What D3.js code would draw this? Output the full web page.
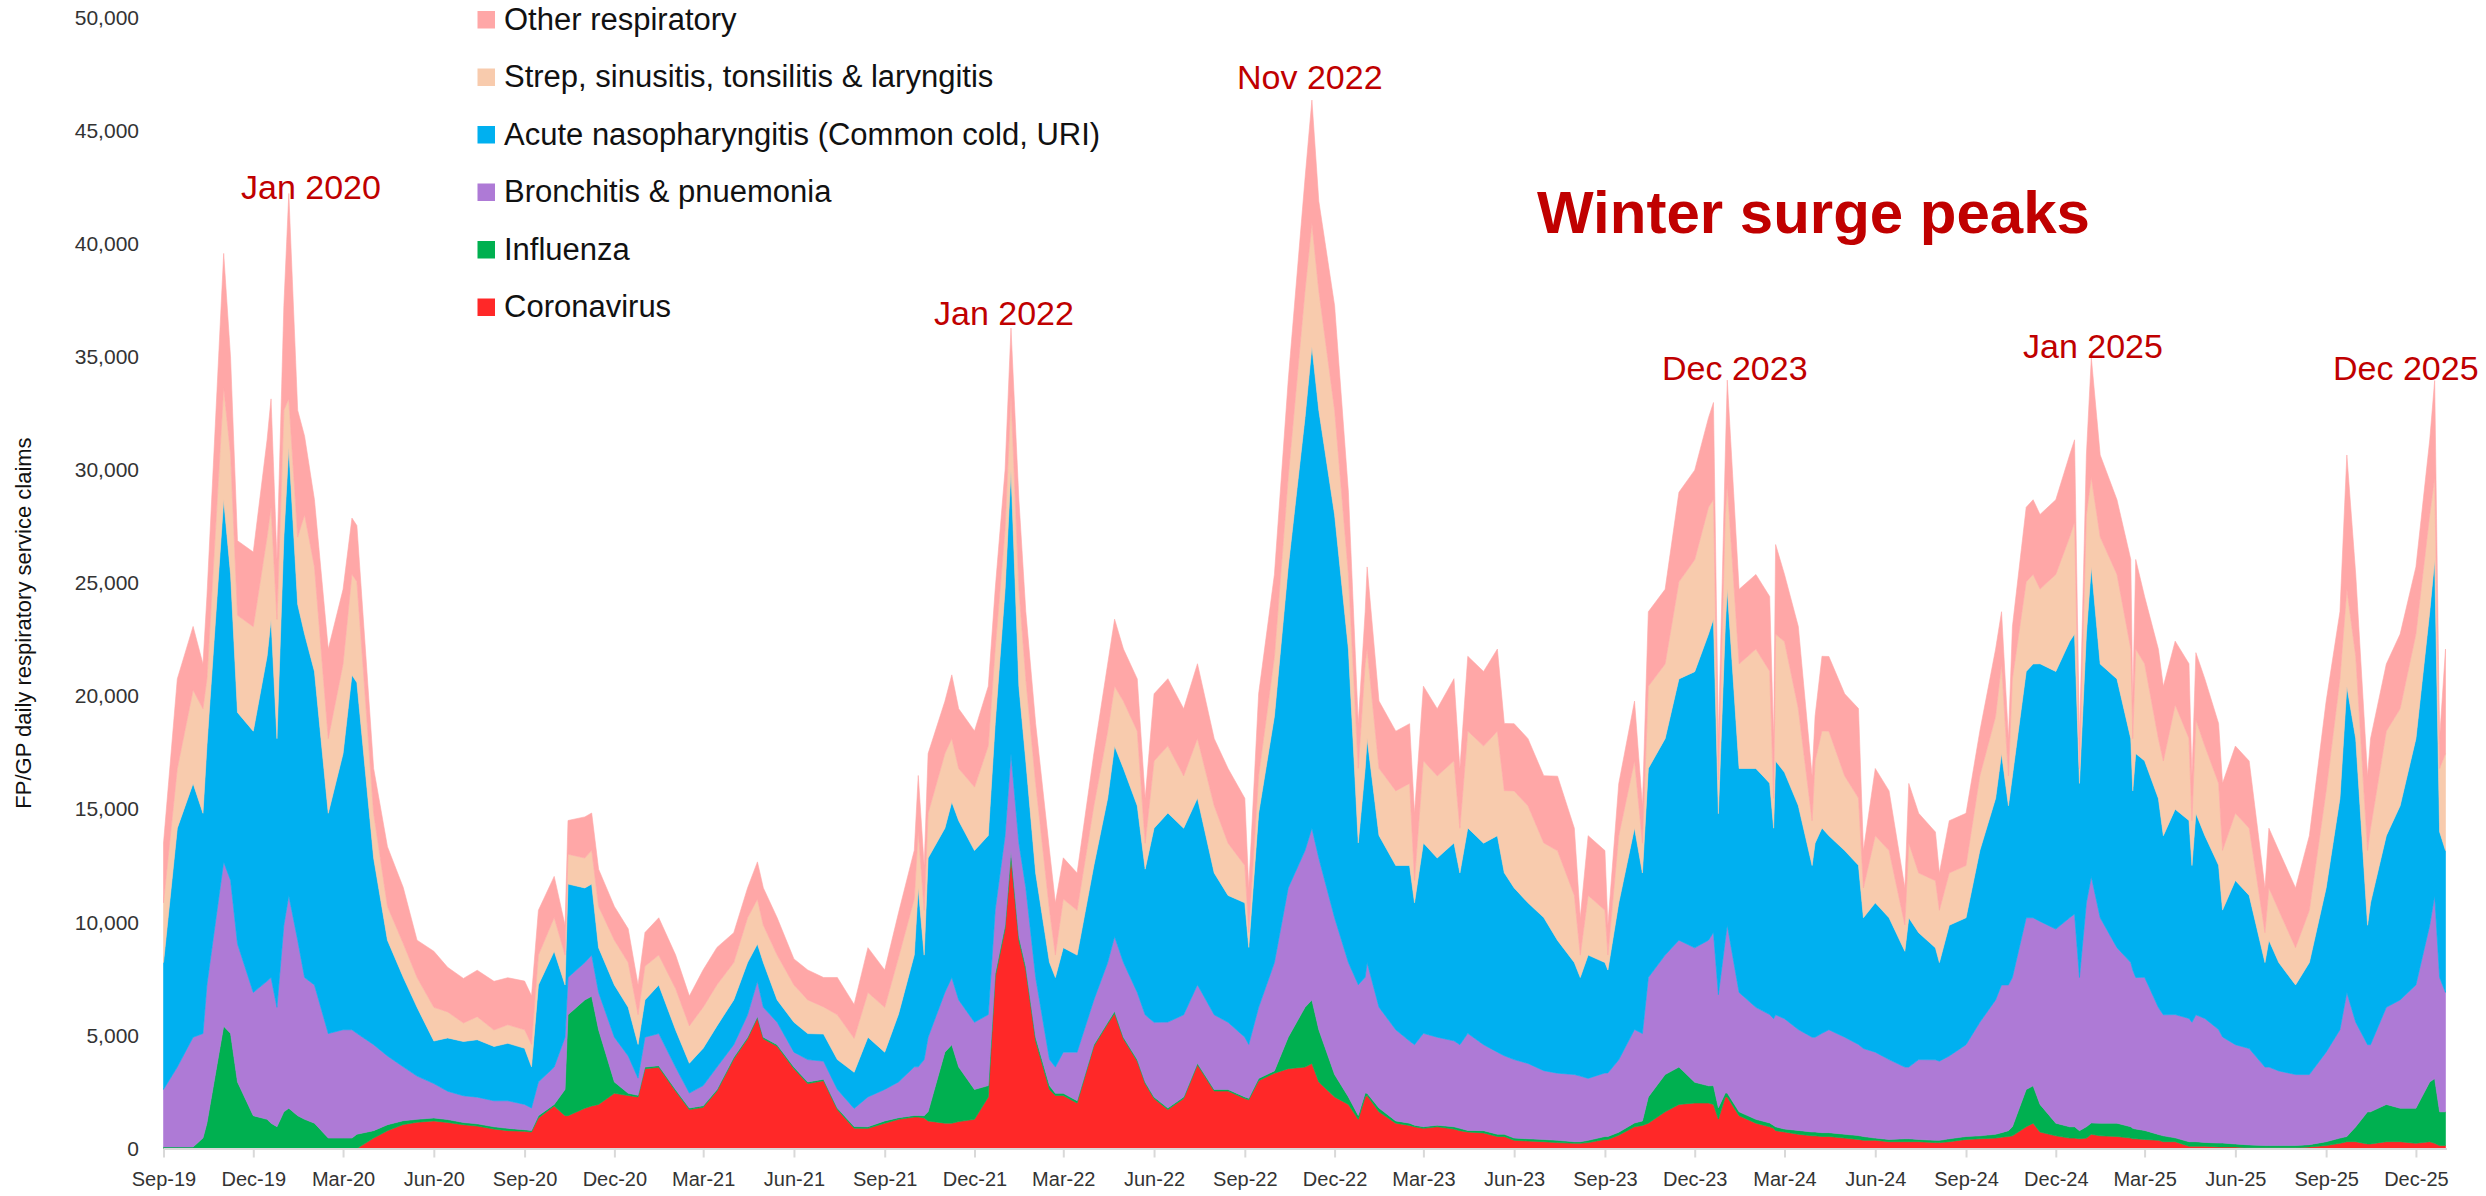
<!DOCTYPE html>
<html>
<head>
<meta charset="utf-8">
<script src="https://cdn.jsdelivr.net/npm/d3@7"></script>
<style>
  html, body { margin: 0; padding: 0; background: #fff; }
  svg { display: block; }
</style>
</head>
<body>
<div id="chart"></div>
<script>
const WIDTH  = 2486;
const HEIGHT = 1196;
const PLOT = {
  left:   163.5,
  right:  2446.5,
  top:    17.5,
  bottom: 1148.5
};
const FONT = '"Liberation Sans", Arial, sans-serif';
const RED_TEXT = '#C00000';

const KEYS = ['coronavirus', 'influenza', 'bronchitis', 'acute', 'strep', 'other'];
const NAMES = {
  other:       'Other respiratory',
  strep:       'Strep, sinusitis, tonsilitis & laryngitis',
  acute:       'Acute nasopharyngitis (Common cold, URI)',
  bronchitis:  'Bronchitis & pnuemonia',
  influenza:   'Influenza',
  coronavirus: 'Coronavirus'
};
const COLORS = {
  other:       '#FFA7A7',
  strep:       '#F8CBAD',
  acute:       '#00B0F0',
  bronchitis:  '#AE7AD6',
  influenza:   '#00B050',
  coronavirus: '#FF2828'
};

// Sample dates (daily claims)
const dates = [
  '2019-09-01','2019-09-15','2019-10-01','2019-10-11','2019-10-15','2019-11-01','2019-11-08','2019-11-15','2019-12-01','2019-12-15','2019-12-19','2019-12-25',
  '2020-01-01','2020-01-06','2020-01-15','2020-01-22','2020-02-01','2020-02-15','2020-03-01','2020-03-10','2020-03-15','2020-04-01','2020-04-15','2020-05-01','2020-05-15','2020-06-01','2020-06-15','2020-07-01','2020-07-15','2020-08-01','2020-08-15','2020-09-01','2020-09-08','2020-09-15','2020-10-01','2020-10-12','2020-10-15','2020-11-01','2020-11-08','2020-11-15','2020-12-01','2020-12-15','2020-12-25',
  '2021-01-01','2021-01-15','2021-02-01','2021-02-15','2021-03-01','2021-03-15','2021-04-01','2021-04-15','2021-04-25','2021-05-01','2021-05-15','2021-06-01','2021-06-15','2021-07-01','2021-07-15','2021-08-01','2021-08-15','2021-09-01','2021-09-15','2021-10-01','2021-10-05','2021-10-11','2021-10-15','2021-11-01','2021-11-08','2021-11-15','2021-12-01','2021-12-15','2021-12-22',
  '2022-01-01','2022-01-07','2022-01-15','2022-01-22','2022-02-01','2022-02-15','2022-02-21','2022-03-01','2022-03-15','2022-04-01','2022-04-15','2022-04-22','2022-05-01','2022-05-15','2022-05-23','2022-06-01','2022-06-15','2022-07-01','2022-07-15','2022-08-01','2022-08-15','2022-09-01','2022-09-05','2022-09-15','2022-10-01','2022-10-15','2022-11-01','2022-11-08','2022-11-15','2022-12-01','2022-12-15','2022-12-25',
  '2023-01-01','2023-01-03','2023-01-15','2023-02-01','2023-02-15','2023-02-20','2023-03-01','2023-03-15','2023-04-01','2023-04-07','2023-04-15','2023-05-01','2023-05-15','2023-05-22','2023-06-01','2023-06-15','2023-07-01','2023-07-15','2023-08-01','2023-08-07','2023-08-15','2023-09-01','2023-09-04','2023-09-15','2023-10-01','2023-10-09','2023-10-15','2023-11-01','2023-11-15','2023-12-01','2023-12-15','2023-12-20','2023-12-25',
  '2024-01-01','2024-01-03','2024-01-15','2024-02-01','2024-02-15','2024-02-19','2024-02-21','2024-03-01','2024-03-15','2024-03-29','2024-04-01','2024-04-08','2024-04-15','2024-05-01','2024-05-15','2024-05-20','2024-06-01','2024-06-15','2024-07-01','2024-07-05','2024-07-15','2024-08-01','2024-08-05','2024-08-15','2024-09-01','2024-09-15','2024-10-01','2024-10-07','2024-10-14','2024-10-18','2024-11-01','2024-11-08','2024-11-15','2024-12-01','2024-12-15','2024-12-20','2024-12-25',
  '2025-01-01','2025-01-06','2025-01-15','2025-02-01','2025-02-15','2025-02-17','2025-02-20','2025-03-01','2025-03-15','2025-03-20','2025-04-01','2025-04-15','2025-04-18','2025-04-22','2025-05-01','2025-05-15','2025-05-19','2025-06-01','2025-06-15','2025-07-01','2025-07-05','2025-07-15','2025-08-01','2025-08-15','2025-09-01','2025-09-15','2025-09-22','2025-10-01','2025-10-13','2025-10-16','2025-11-01','2025-11-15','2025-12-01','2025-12-15','2025-12-20','2025-12-25','2025-12-31'
];

const coronavirus = [
  0,0,0,0,0,0,0,0,0,0,0,0,
  0,0,0,0,0,0,0,0,0,460,790,1060,1160,1220,1150,1050,990,860,790,760,730,1350,1880,1450,1450,1780,1880,1950,2440,2340,2280,
  3530,3590,2540,1720,1820,2540,3960,4850,5770,4850,4520,3530,2870,3000,1720,900,890,1120,1290,1390,1390,1350,1220,1120,1120,1190,1290,2280,7560,
  9700,12840,9210,7890,4750,2610,2340,2340,2010,4520,5510,5970,4850,3860,2870,2210,1720,2210,3700,2540,2540,2210,2150,3000,3330,3530,3600,3760,2940,2280,1950,1290,
  2280,2340,1620,1120,1020,960,890,960,860,790,730,690,530,530,360,330,300,260,230,230,260,400,400,590,960,1020,1120,1620,1950,2010,2010,1950,1300,
  2280,2280,1450,1120,960,890,790,730,630,560,560,530,530,460,400,360,360,300,300,300,300,260,260,300,400,430,460,500,530,560,960,1120,730,560,460,460,430,
  460,630,560,530,460,430,430,400,360,300,300,100,100,100,100,70,70,70,30,30,30,30,30,70,130,230,300,300,200,200,300,300,230,300,230,130,130
];

const influenza = [
  70,70,70,460,1120,5410,5080,2940,1450,1290,1120,960,
  1620,1780,1450,1290,1120,460,460,460,630,330,260,170,130,130,130,100,100,100,100,70,70,100,70,1160,4460,4790,4850,3300,500,100,70,
  70,70,70,70,70,70,70,70,70,70,70,70,70,60,70,70,70,100,70,70,70,100,400,3140,3470,2410,1320,500,170,
  170,330,170,170,170,170,100,100,100,70,70,100,70,70,70,70,70,70,70,70,70,70,70,100,100,1390,2640,2810,2310,990,330,170,
  170,100,170,100,100,70,70,70,100,100,70,100,100,100,100,100,100,100,70,70,100,130,130,130,170,200,1160,1650,1650,920,760,830,500,
  170,170,170,170,170,130,170,130,170,170,170,170,170,170,170,170,100,100,130,130,100,100,100,130,130,130,170,200,260,400,1650,1650,1220,560,500,500,360,
  500,500,560,590,500,460,430,400,260,260,170,200,200,200,170,170,170,130,130,100,100,100,100,100,170,230,230,660,1420,1420,1650,1480,1550,2640,2860,1490,1490
];

const bronchitis = [
  2540,3530,4850,4620,6110,7260,6770,6110,5450,6110,6440,5280,
  8250,9410,7760,6270,6110,4620,4790,4790,4460,3800,3040,2380,1910,1520,1250,1180,1180,1150,1220,1120,990,1490,1650,2310,1650,1650,1820,1650,1980,1650,760,
  1320,1420,990,660,890,990,560,990,1550,1320,990,660,990,800,820,800,1320,1390,1580,2150,2150,2480,3300,2640,2970,2970,2970,3140,2810,
  3960,4290,4130,3470,2640,1160,1160,1820,2150,1980,2640,3300,3300,2970,2970,3300,3800,3630,3470,3300,2970,2640,2380,3140,4790,6600,6930,7590,7590,6930,5940,5780,
  5120,5780,4460,4030,3630,3560,4130,3890,3800,3700,4290,3800,3630,3470,3470,3330,3040,2970,2970,2900,2740,2810,2810,3200,4130,3860,5280,5280,5610,5940,6440,6770,5000,
  6770,7430,5280,4950,4790,4720,4950,4880,4460,4190,4190,4390,4550,4290,4030,3890,3800,3530,3170,3170,3530,3560,3500,3660,4060,5020,5940,6530,6440,6600,7590,7430,8090,8580,9240,9410,6770,
  9900,10890,9080,7760,7260,7000,6700,6770,5610,5350,5450,5450,5280,5610,5480,5020,4690,4390,4260,3470,3470,3300,3140,3100,3960,4790,6370,4620,2970,2970,4290,4790,5450,6930,8090,5940,5280
];

const acute = [
  5610,10560,11220,9740,10560,16010,13530,10230,11550,14360,15840,11880,
  17160,19800,14850,15180,13860,9740,12210,15680,15510,8250,5120,3960,3040,1880,2360,2400,2540,2400,2540,2480,1820,4290,5120,2310,4130,3300,3140,1980,2310,2150,1490,
  1650,2150,1650,1320,1650,1820,1980,2310,1650,1980,990,1320,1150,1200,1320,1600,2640,1650,3000,4950,7920,4620,7920,7260,7760,7920,7590,7920,8250,
  10890,12540,6930,5610,4620,4290,3960,4620,4290,5940,7260,8420,8580,8250,6440,8580,9240,8250,8250,6270,5610,5940,4290,8580,10890,14190,19140,21290,19800,17820,13860,6270,
  9240,9900,7590,7260,7760,6270,8420,7920,8750,7590,9080,8910,9570,8090,7590,7100,6770,5870,4950,4360,5450,4880,4550,6930,8910,7100,9240,9570,11550,12210,13530,13860,8000,
  13860,14850,9900,10560,10230,8420,11220,10890,9900,7590,8580,9080,8580,8250,7920,5780,6600,6270,5120,6600,5610,4950,4360,5780,5610,7590,8910,10230,7920,8910,10890,11220,11390,11390,12210,12380,8580,
  11880,13700,11220,11880,9900,7920,9900,9570,9240,7920,9080,8750,6930,8910,8090,7260,5610,7260,6770,4620,5610,4790,3960,4950,7260,10230,13530,12540,5280,6270,7590,8580,10890,13860,14850,6440,6270
];

const strep = [
  2640,2640,4130,4620,2970,4950,5280,4290,4620,5280,4950,5280,
  5610,2150,2970,5280,4620,3300,3960,4460,4460,1980,1490,1490,1320,1490,1150,820,1020,730,820,820,990,1320,1490,1320,1320,1320,1490,1820,1980,1980,1320,
  1490,1320,1820,1650,1820,1820,1650,1980,1980,1650,1980,1650,1490,1200,1980,1500,1980,1980,2500,2480,2480,1980,1980,3300,2810,2310,2810,3960,3300,
  2640,3300,4290,3630,3960,2310,990,2150,1980,2640,2970,2640,2970,3300,1150,2970,2970,2310,2640,2970,2310,1650,660,1650,2640,3960,5610,5450,5280,4620,3300,3300,
  4620,3960,2970,3300,3630,990,3630,3630,3630,1980,4290,4290,4620,3630,4290,4290,3300,3960,2970,990,2640,2310,660,2970,2970,1320,3630,3300,4290,4950,5610,5280,1500,
  4950,4620,4620,5280,4950,1320,5610,5780,4290,1980,3630,4290,4620,3300,2970,1320,2970,2970,1160,3300,2640,2970,2310,2310,2310,3300,3630,3960,1320,4290,3960,3960,3300,4290,4620,4950,660,
  5280,3960,5610,4620,3960,2310,4620,4290,2640,3300,4620,3630,1980,4130,3960,3630,2640,2970,2970,1320,2310,2310,1650,2310,4290,5280,4290,3630,3300,3300,4620,4290,4620,4290,3630,2810,4290
];

const other = [
  2640,3960,2810,1980,3630,5940,4290,3300,3300,4290,4790,2640,
  4620,9080,5610,3470,2970,3960,3300,2480,2480,1980,2640,2480,1650,2480,1970,1970,2050,2150,2080,2150,2150,1980,1820,1320,1490,1820,1650,1650,1490,1490,1320,
  1490,1650,1490,1320,1650,1650,1320,1320,1650,1650,1650,1150,1320,1300,1650,1500,1980,1650,1980,2150,2480,1980,2640,2310,2810,2640,2480,2640,2640,
  2640,2970,3960,2970,2640,2640,2310,1820,1650,2310,2970,2970,2310,2310,1980,2970,2970,2970,3300,2970,3300,2970,1980,3630,3630,4290,4950,5450,3960,4620,3630,1980,
  2310,3630,2970,2640,2640,2970,3300,2970,3630,2640,3300,3300,3630,2970,2970,2970,2970,3300,2970,1650,2640,2640,1320,2310,2640,1650,3300,3300,3960,3960,3960,4290,1800,
  2640,4620,3300,3300,3300,2640,3960,2970,3630,1980,1980,3300,3300,3630,3960,1650,2970,2640,1650,2640,2640,2150,1650,2310,2310,1980,2970,2310,1650,2310,3300,3300,3300,3300,3630,3630,1320,
  2640,5280,3630,3300,3960,1650,3960,2970,3960,3300,2810,3300,1980,2970,2970,2640,2970,2970,2970,1980,2640,2640,2640,3300,3960,2970,5940,3630,3300,3960,2970,3300,2970,3300,4290,1320,4620
];

const Y_TICKS = [0, 5000, 10000, 15000, 20000, 25000, 30000, 35000, 40000, 45000, 50000];

const PEAKS = ['Jan 2020', 'Jan 2022', 'Nov 2022', 'Dec 2023', 'Jan 2025', 'Dec 2025'];
const TITLE = 'Winter surge peaks';
const Y_LABEL = 'FP/GP daily respiratory service claims';



var parseDate = d3.utcParse('%Y-%m-%d');
var values = { coronavirus, influenza, bronchitis, acute, strep, other };

var table = dates.map((d, i) => {
  let row = { date: parseDate(d) };
  for (let k of KEYS) {
    row[k] = values[k][i];
  }
  return row;
});

var series = d3.stack().keys(KEYS)(table);

var xScale = d3.scaleUtc()
  .domain([parseDate('2019-09-01'), parseDate('2026-01-01')])
  .range([PLOT.left, PLOT.right]);
var yScale = d3.scaleLinear()
  .domain([0, 50000])
  .range([PLOT.bottom, PLOT.top]);

var svg = d3.select('#chart').append('svg')
  .attr('width', WIDTH)
  .attr('height', HEIGHT)
  .style('background-color', '#fff');

// Stacked areas
var area = d3.area()
  .x(d => xScale(d.data.date))
  .y0(d => yScale(d[0]))
  .y1(d => yScale(d[1]));

svg.append('g')
  .selectAll('path')
  .data(series)
  .enter().append('path')
    .attr('d', area)
    .style('fill', d => COLORS[d.key])
    .style('stroke', d => COLORS[d.key])
    .style('stroke-width', 0.6);

// X axis
var xTicks = d3.utcMonth.range(parseDate('2019-09-01'), parseDate('2026-01-01'), 3);
var xAxis = svg.append('g')
  .attr('transform', `translate(0,${PLOT.bottom})`)
  .call(d3.axisBottom(xScale)
    .tickValues(xTicks)
    .tickFormat(d3.utcFormat('%b-%y'))
    .tickSize(9)
    .tickSizeOuter(0)
    .tickPadding(14.5));
xAxis.select('.domain')
  .style('stroke', '#d9d9d9')
  .style('stroke-width', 2);
xAxis.selectAll('.tick line')
  .style('stroke', '#d9d9d9')
  .style('stroke-width', 2);
xAxis.selectAll('.tick text')
  .style('fill', '#333')
  .style('font-family', FONT)
  .style('font-size', '20px');

// Y axis (labels only)
var yAxis = svg.append('g')
  .attr('transform', `translate(${PLOT.left},0)`)
  .call(d3.axisLeft(yScale)
    .tickValues(Y_TICKS)
    .tickFormat(d3.format(','))
    .tickSize(0)
    .tickPadding(24.5));
yAxis.select('.domain').remove();
yAxis.selectAll('.tick text')
  .style('fill', '#333')
  .style('font-family', FONT)
  .style('font-size', '21px');

svg.append('text')
  .attr('transform', 'translate(31,623) rotate(-90)')
  .attr('text-anchor', 'middle')
  .style('fill', '#111')
  .style('font-family', FONT)
  .style('font-size', '22px')
  .text(Y_LABEL);

// Legend, top to bottom in reverse stack order
var legendKeys = KEYS.slice().reverse();
var legend = svg.append('g')
  .selectAll('g')
  .data(legendKeys)
  .enter().append('g')
    .attr('transform', (d, i) => `translate(477.5,${19.5 + i * 57.5})`);
legend.append('rect')
  .attr('x', 0)
  .attr('y', -8.5)
  .attr('width', 17.5)
  .attr('height', 17.5)
  .style('fill', d => COLORS[d]);
legend.append('text')
  .attr('x', 26.5)
  .attr('dy', '0.33em')
  .style('fill', '#111')
  .style('font-family', FONT)
  .style('font-size', '31px')
  .text(d => NAMES[d]);

// Peak annotations
var peakPos = [
  [241, 199],
  [934, 325],
  [1237, 89],
  [1662, 380],
  [2023, 358],
  [2333, 380]
];
svg.append('g')
  .selectAll('text')
  .data(PEAKS)
  .enter().append('text')
    .attr('x', (d, i) => peakPos[i][0])
    .attr('y', (d, i) => peakPos[i][1])
    .style('fill', RED_TEXT)
    .style('font-family', FONT)
    .style('font-size', '34px')
    .text(d => d);

svg.append('text')
  .attr('x', 1537)
  .attr('y', 233)
  .style('fill', RED_TEXT)
  .style('font-family', FONT)
  .style('font-size', '60px')
  .style('font-weight', 'bold')
  .text(TITLE);
</script>
</body>
</html>
